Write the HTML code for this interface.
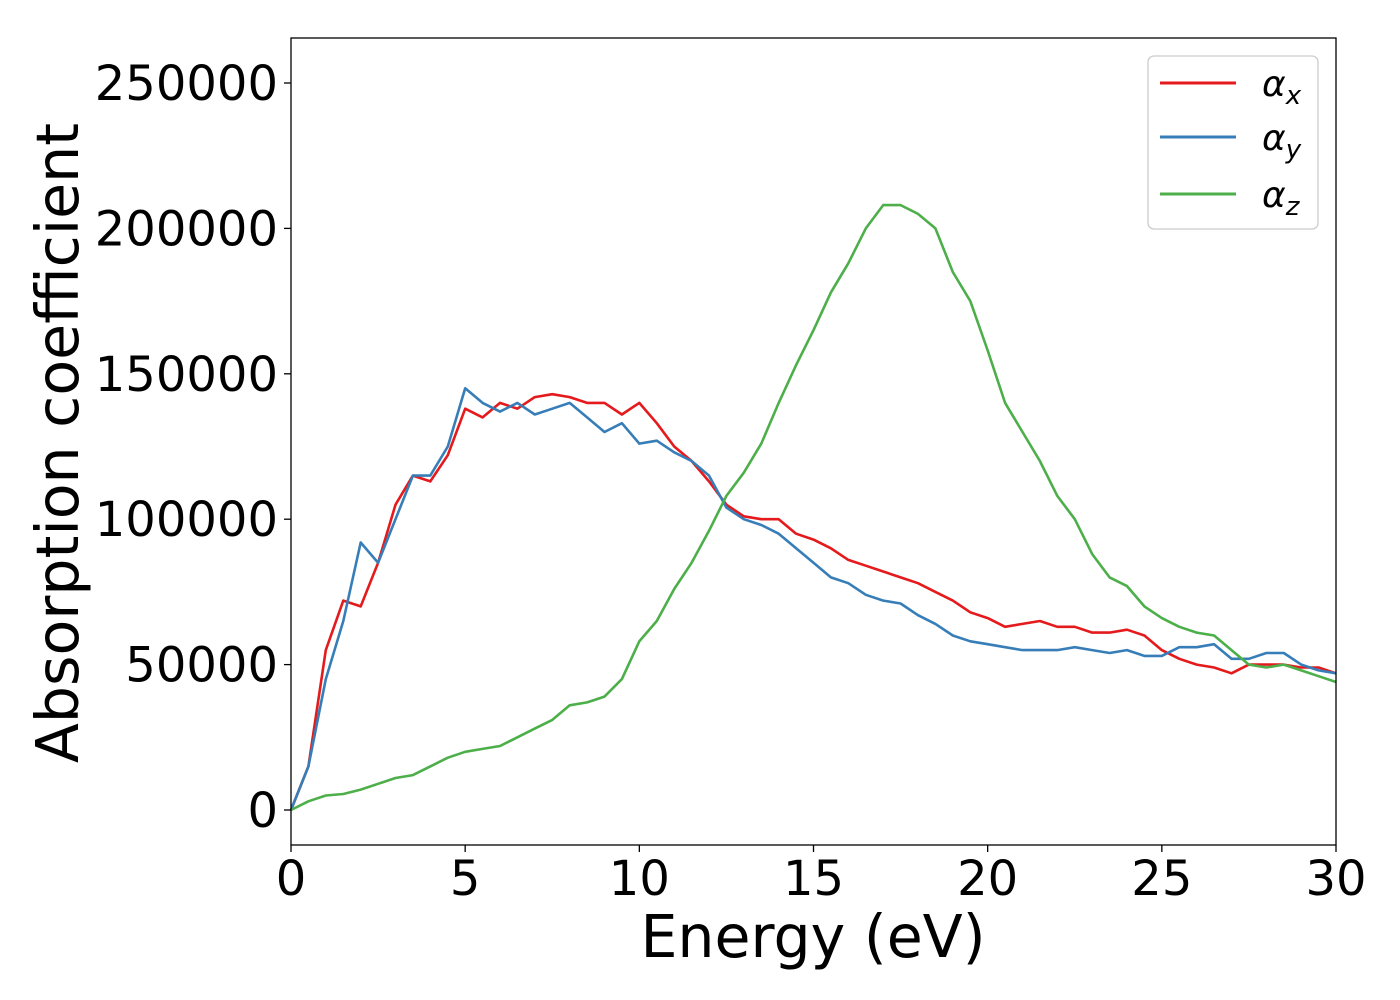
<!DOCTYPE html>
<html><head><meta charset="utf-8"><style>
html,body{margin:0;padding:0;background:#fff;}
svg{display:block;font-family:"DejaVu Sans","Liberation Sans",sans-serif;}
</style></head><body>
<svg id="chart" width="1400" height="1000" viewBox="0 0 1400 1000" xmlns="http://www.w3.org/2000/svg">
<g id="axes"></g>
<g id="series"></g>
<rect x="291" y="38" width="1045" height="807" fill="none" stroke="#000" stroke-width="1.3"/>
<text x="813" y="957" font-size="58.5" text-anchor="middle">Energy (eV)</text>
<text transform="translate(78,443) rotate(-90)" font-size="58.5" text-anchor="middle">Absorption coefficient</text>
<g>
<rect x="1148" y="56" width="170" height="173" rx="6" fill="#fff" stroke="#ccc" stroke-width="1.3"/>
<line x1="1160" y1="83" x2="1236" y2="83" stroke="#e41a1c" stroke-width="3"/>
<text x="1262" y="96" font-size="36" font-style="italic">α<tspan font-size="26" dy="8">x</tspan></text>
<line x1="1160" y1="137" x2="1236" y2="137" stroke="#377eb8" stroke-width="3"/>
<text x="1262" y="150" font-size="36" font-style="italic">α<tspan font-size="26" dy="8">y</tspan></text>
<line x1="1160" y1="194" x2="1236" y2="194" stroke="#4daf4a" stroke-width="3"/>
<text x="1262" y="207" font-size="36" font-style="italic">α<tspan font-size="26" dy="8">z</tspan></text>
</g>
</svg>
<script>
const energies = [0,0.5,1,1.5,2,2.5,3,3.5,4,4.5,5,5.5,6,6.5,7,7.5,8,8.5,9,9.5,10,10.5,11,11.5,12,12.5,13,13.5,14,14.5,15,15.5,16,16.5,17,17.5,18,18.5,19,19.5,20,20.5,21,21.5,22,22.5,23,23.5,24,24.5,25,25.5,26,26.5,27,27.5,28,28.5,29,29.5,30];
const alphaX = [0,15000,55000,72000,70000,85000,105000,115000,113000,122000,138000,135000,140000,138000,142000,143000,142000,140000,140000,136000,140000,133000,125000,120000,113000,105000,101000,100000,100000,95000,93000,90000,86000,84000,82000,80000,78000,75000,72000,68000,66000,63000,64000,65000,63000,63000,61000,61000,62000,60000,55000,52000,50000,49000,47000,50000,50000,50000,49000,49000,47000];
const alphaY = [0,15000,45000,65000,92000,85000,100000,115000,115000,125000,145000,140000,137000,140000,136000,138000,140000,135000,130000,133000,126000,127000,123000,120000,115000,104000,100000,98000,95000,90000,85000,80000,78000,74000,72000,71000,67000,64000,60000,58000,57000,56000,55000,55000,55000,56000,55000,54000,55000,53000,53000,56000,56000,57000,52000,52000,54000,54000,50000,48000,47000];
const alphaZ = [0,3000,5000,5500,7000,9000,11000,12000,15000,18000,20000,21000,22000,25000,28000,31000,36000,37000,39000,45000,58000,65000,76000,85000,96000,108000,116000,126000,140000,153000,165000,178000,188000,200000,208000,208000,205000,200000,185000,175000,158000,140000,130000,120000,108000,100000,88000,80000,77000,70000,66000,63000,61000,60000,55000,50000,49000,50000,48000,46000,44000];
const xTicks = [0,5,10,15,20,25,30];
const yTicks = [0,50000,100000,150000,200000,250000];
const yTickLabels = ["0","50000","100000","150000","200000","250000"];

const NS = "http://www.w3.org/2000/svg";
const X0=291, X1=1336, XMIN=0, XMAX=30;
const Y0=810, YPX=727/250000;
function xScale(v){return X0+(v-XMIN)/(XMAX-XMIN)*(X1-X0);}
function yScale(v){return Y0-v*YPX;}

const axes=document.getElementById('axes');
xTicks.forEach(t=>{
  const l=document.createElementNS(NS,'line');
  
  
  l.setAttribute('x1',xScale(t));l.setAttribute('x2',xScale(t));
  l.setAttribute('y1',845);l.setAttribute('y2',852);l.setAttribute('stroke','#000');l.setAttribute('stroke-width','1.3');
  axes.appendChild(l);
  const tx=document.createElementNS(NS,'text');
  
  
  tx.setAttribute('x',xScale(t));tx.setAttribute('y',895);tx.setAttribute('font-size','48');tx.setAttribute('text-anchor','middle');
  tx.textContent=String(t);
  axes.appendChild(tx);
});
yTicks.forEach((t,i)=>{
  const l=document.createElementNS(NS,'line');
  
  
  l.setAttribute('x1',284);l.setAttribute('x2',291);
  l.setAttribute('y1',yScale(t));l.setAttribute('y2',yScale(t));l.setAttribute('stroke','#000');l.setAttribute('stroke-width','1.3');
  axes.appendChild(l);
  const tx=document.createElementNS(NS,'text');
  
  
  tx.setAttribute('x',278);tx.setAttribute('y',yScale(t)+17);tx.setAttribute('font-size','48');tx.setAttribute('text-anchor','end');
  tx.textContent=yTickLabels[i];
  axes.appendChild(tx);
});
const ser=document.getElementById('series');
function drawSeries(vals,color,name){
  const p=document.createElementNS(NS,'path');
  
  
  let d='';
  vals.forEach((v,i)=>{d+=(i?'L':'M')+xScale(energies[i]).toFixed(1)+','+yScale(v).toFixed(1);});
  p.setAttribute('d',d);p.setAttribute('fill','none');p.setAttribute('stroke',color);
  p.setAttribute('stroke-width','2.6');p.setAttribute('stroke-linejoin','round');
  ser.appendChild(p);
}
drawSeries(alphaX,'#e41a1c','series-alpha-x');
drawSeries(alphaY,'#377eb8','series-alpha-y');
drawSeries(alphaZ,'#4daf4a','series-alpha-z');
</script>
</body></html>
